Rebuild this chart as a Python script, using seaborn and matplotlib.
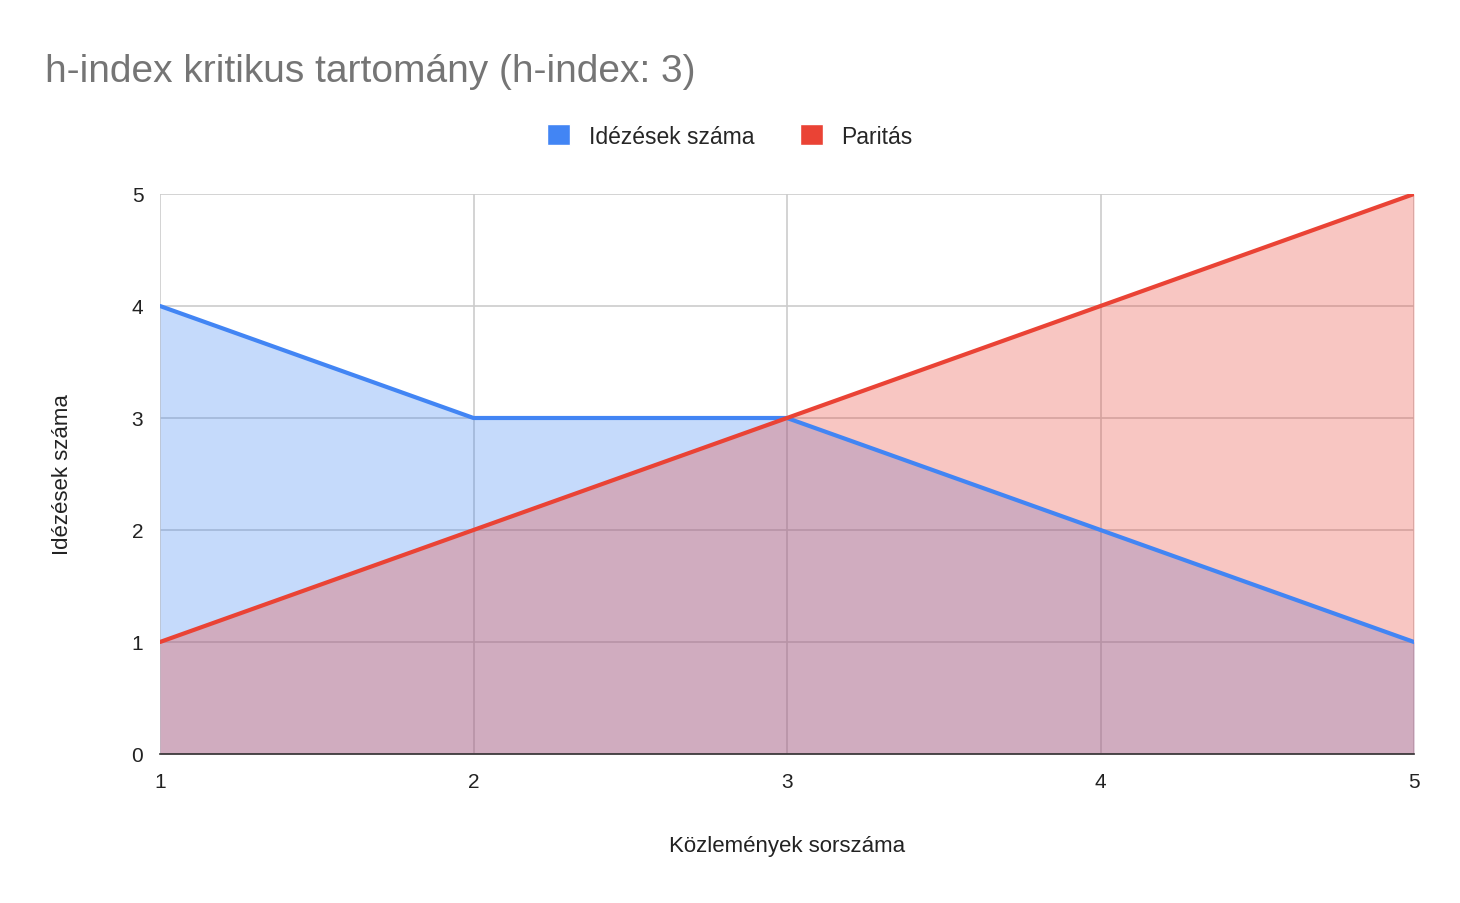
import numpy as np
import pandas as pd
import matplotlib
matplotlib.use("Agg")
import matplotlib.pyplot as plt
import seaborn as sns
from matplotlib.patches import Patch

# data
sorszam = [1, 2, 3, 4, 5]
idezesek = [4, 3, 3, 2, 1]
paritas = [1, 2, 3, 4, 5]

df = pd.DataFrame({
    "sorszam": sorszam * 2,
    "ertek": idezesek + paritas,
    "sorozat": ["Idézések száma"] * 5 + ["Paritás"] * 5,
})

sns.set_style("white")
plt.rcParams["font.family"] = ["Liberation Sans", "DejaVu Sans"]

blue = "#4285F4"
red = "#EA4335"
palette = {"Idézések száma": blue, "Paritás": red}

fig = plt.figure(figsize=(14.6, 9.04), dpi=100)
ax = fig.add_axes([160 / 1460, 1 - 755 / 904, (1414 - 160) / 1460, (755 - 195) / 904])

ax.fill_between(sorszam, idezesek, 0, color=blue, alpha=0.3, linewidth=0, zorder=2)
ax.fill_between(sorszam, paritas, 0, color=red, alpha=0.3, linewidth=0, zorder=2)

sns.lineplot(data=df, x="sorszam", y="ertek", hue="sorozat", palette=palette,
             linewidth=3, ax=ax, legend=False, zorder=3)

ax.set_xlim(1, 5)
ax.set_ylim(0, 5)
ax.set_xticks(sorszam)
ax.set_yticks(range(6))
ax.grid(True, color="#cccccc", linewidth=1.2, zorder=1)
ax.set_axisbelow(True)
for s in ["top", "right", "left"]:
    ax.spines[s].set_visible(False)
ax.spines["bottom"].set_color("#333333")
ax.spines["bottom"].set_linewidth(1.2)
ax.tick_params(axis="both", length=0, labelsize=15, colors="#222222")
ax.tick_params(axis="x", pad=13)
ax.tick_params(axis="y", pad=12)

ax.set_xlabel("Közlemények sorszáma", fontsize=16, color="#222222", labelpad=32)
ax.set_ylabel("Idézések száma", fontsize=16, color="#222222", labelpad=42)

fig.text(45 / 1460, 1 - 72 / 904, "h-index kritikus tartomány (h-index: 3)",
         fontsize=28, color="#757575", va="center", ha="left")

handles = [Patch(facecolor=blue, label="Idézések száma"),
           Patch(facecolor=red, label="Paritás")]
fig.legend(handles=handles, loc="center", bbox_to_anchor=(730 / 1460, 1 - 137 / 904),
           ncol=2, frameon=False, fontsize=16.5, handlelength=1.0, handleheight=1.0,
           columnspacing=2.0, handletextpad=0.8)

fig.savefig("out.png", dpi=100)
